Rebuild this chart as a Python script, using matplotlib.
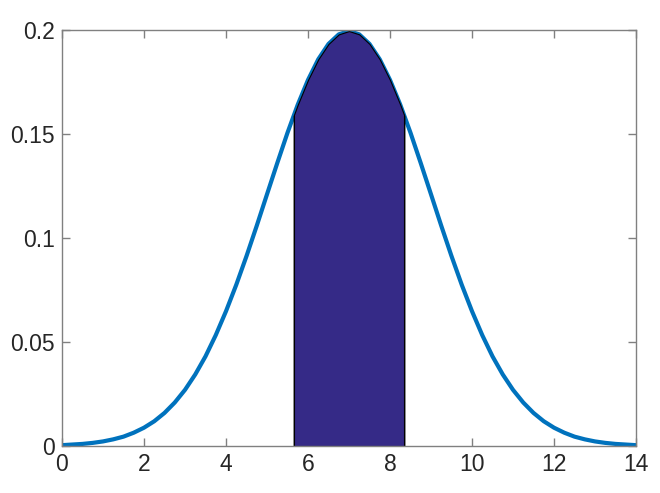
import matplotlib.pyplot as plt

# curve values (bell shape, peak ~0.2 at x=7)
x = [0, 0.25, 0.5, 0.75, 1, 1.25, 1.5, 1.75, 2, 2.25, 2.5, 2.75, 3, 3.25, 3.5, 3.75,
     4, 4.25, 4.5, 4.75, 5, 5.25, 5.5, 5.75, 6, 6.25, 6.5, 6.75, 7,
     7.25, 7.5, 7.75, 8, 8.25, 8.5, 8.75, 9, 9.25, 9.5, 9.75, 10, 10.25, 10.5,
     10.75, 11, 11.25, 11.5, 11.75, 12, 12.25, 12.5, 12.75, 13, 13.25, 13.5, 13.75, 14]
y = [0.0004, 0.0007, 0.0010, 0.0015, 0.0022, 0.0032, 0.0045, 0.0064, 0.0088, 0.0119,
     0.0159, 0.0209, 0.0270, 0.0344, 0.0431, 0.0533, 0.0648, 0.0775, 0.0913, 0.1059,
     0.1210, 0.1360, 0.1506, 0.1641, 0.1760, 0.1859, 0.1933, 0.1979, 0.1995,
     0.1979, 0.1933, 0.1859, 0.1760, 0.1641, 0.1506, 0.1360, 0.1210, 0.1059, 0.0913,
     0.0775, 0.0648, 0.0533, 0.0431, 0.0344, 0.0270, 0.0209, 0.0159, 0.0119, 0.0088,
     0.0064, 0.0045, 0.0032, 0.0022, 0.0015, 0.0010, 0.0007, 0.0004]

# shaded band
fill_x = [5.65, 5.75, 6, 6.25, 6.5, 6.75, 7, 7.25, 7.5, 7.75, 8, 8.25, 8.35]
fill_y = [0.1588, 0.1641, 0.1760, 0.1859, 0.1933, 0.1979, 0.1995,
          0.1979, 0.1933, 0.1859, 0.1760, 0.1641, 0.1588]

xticks = [0, 2, 4, 6, 8, 10, 12, 14]
yticks = [0, 0.05, 0.1, 0.15, 0.2]
ylabels = ['0', '0.05', '0.1', '0.15', '0.2']

plt.rcParams['font.family'] = ['Liberation Sans', 'DejaVu Sans']

fig = plt.figure(figsize=(6.6, 4.93), dpi=100)
ax = fig.add_axes([62/660, 47/493, 574/660, 416/493])

ax.plot(x, y, color='#0072bd', lw=3, solid_joinstyle='round', zorder=2)
ax.fill_between(fill_x, 0, fill_y, facecolor='#352a87', edgecolor='black',
                linewidth=0.8, zorder=3)
ax.plot([fill_x[0], fill_x[0]], [0, fill_y[0]], color='black', lw=0.8, zorder=3)
ax.plot([fill_x[-1], fill_x[-1]], [0, fill_y[-1]], color='black', lw=0.8, zorder=3)

ax.set_xlim(0, 14)
ax.set_ylim(0, 0.2)
ax.set_xticks(xticks)
ax.set_yticks(yticks)
ax.set_yticklabels(ylabels)

for s in ax.spines.values():
    s.set_color('#808080')
    s.set_linewidth(1)
    s.set_zorder(4)
ax.tick_params(direction='in', length=6, width=1, color='#808080',
               top=True, right=True, labelsize=16.5, labelcolor='#262626', pad=5)

fig.savefig('out.png', dpi=100)
